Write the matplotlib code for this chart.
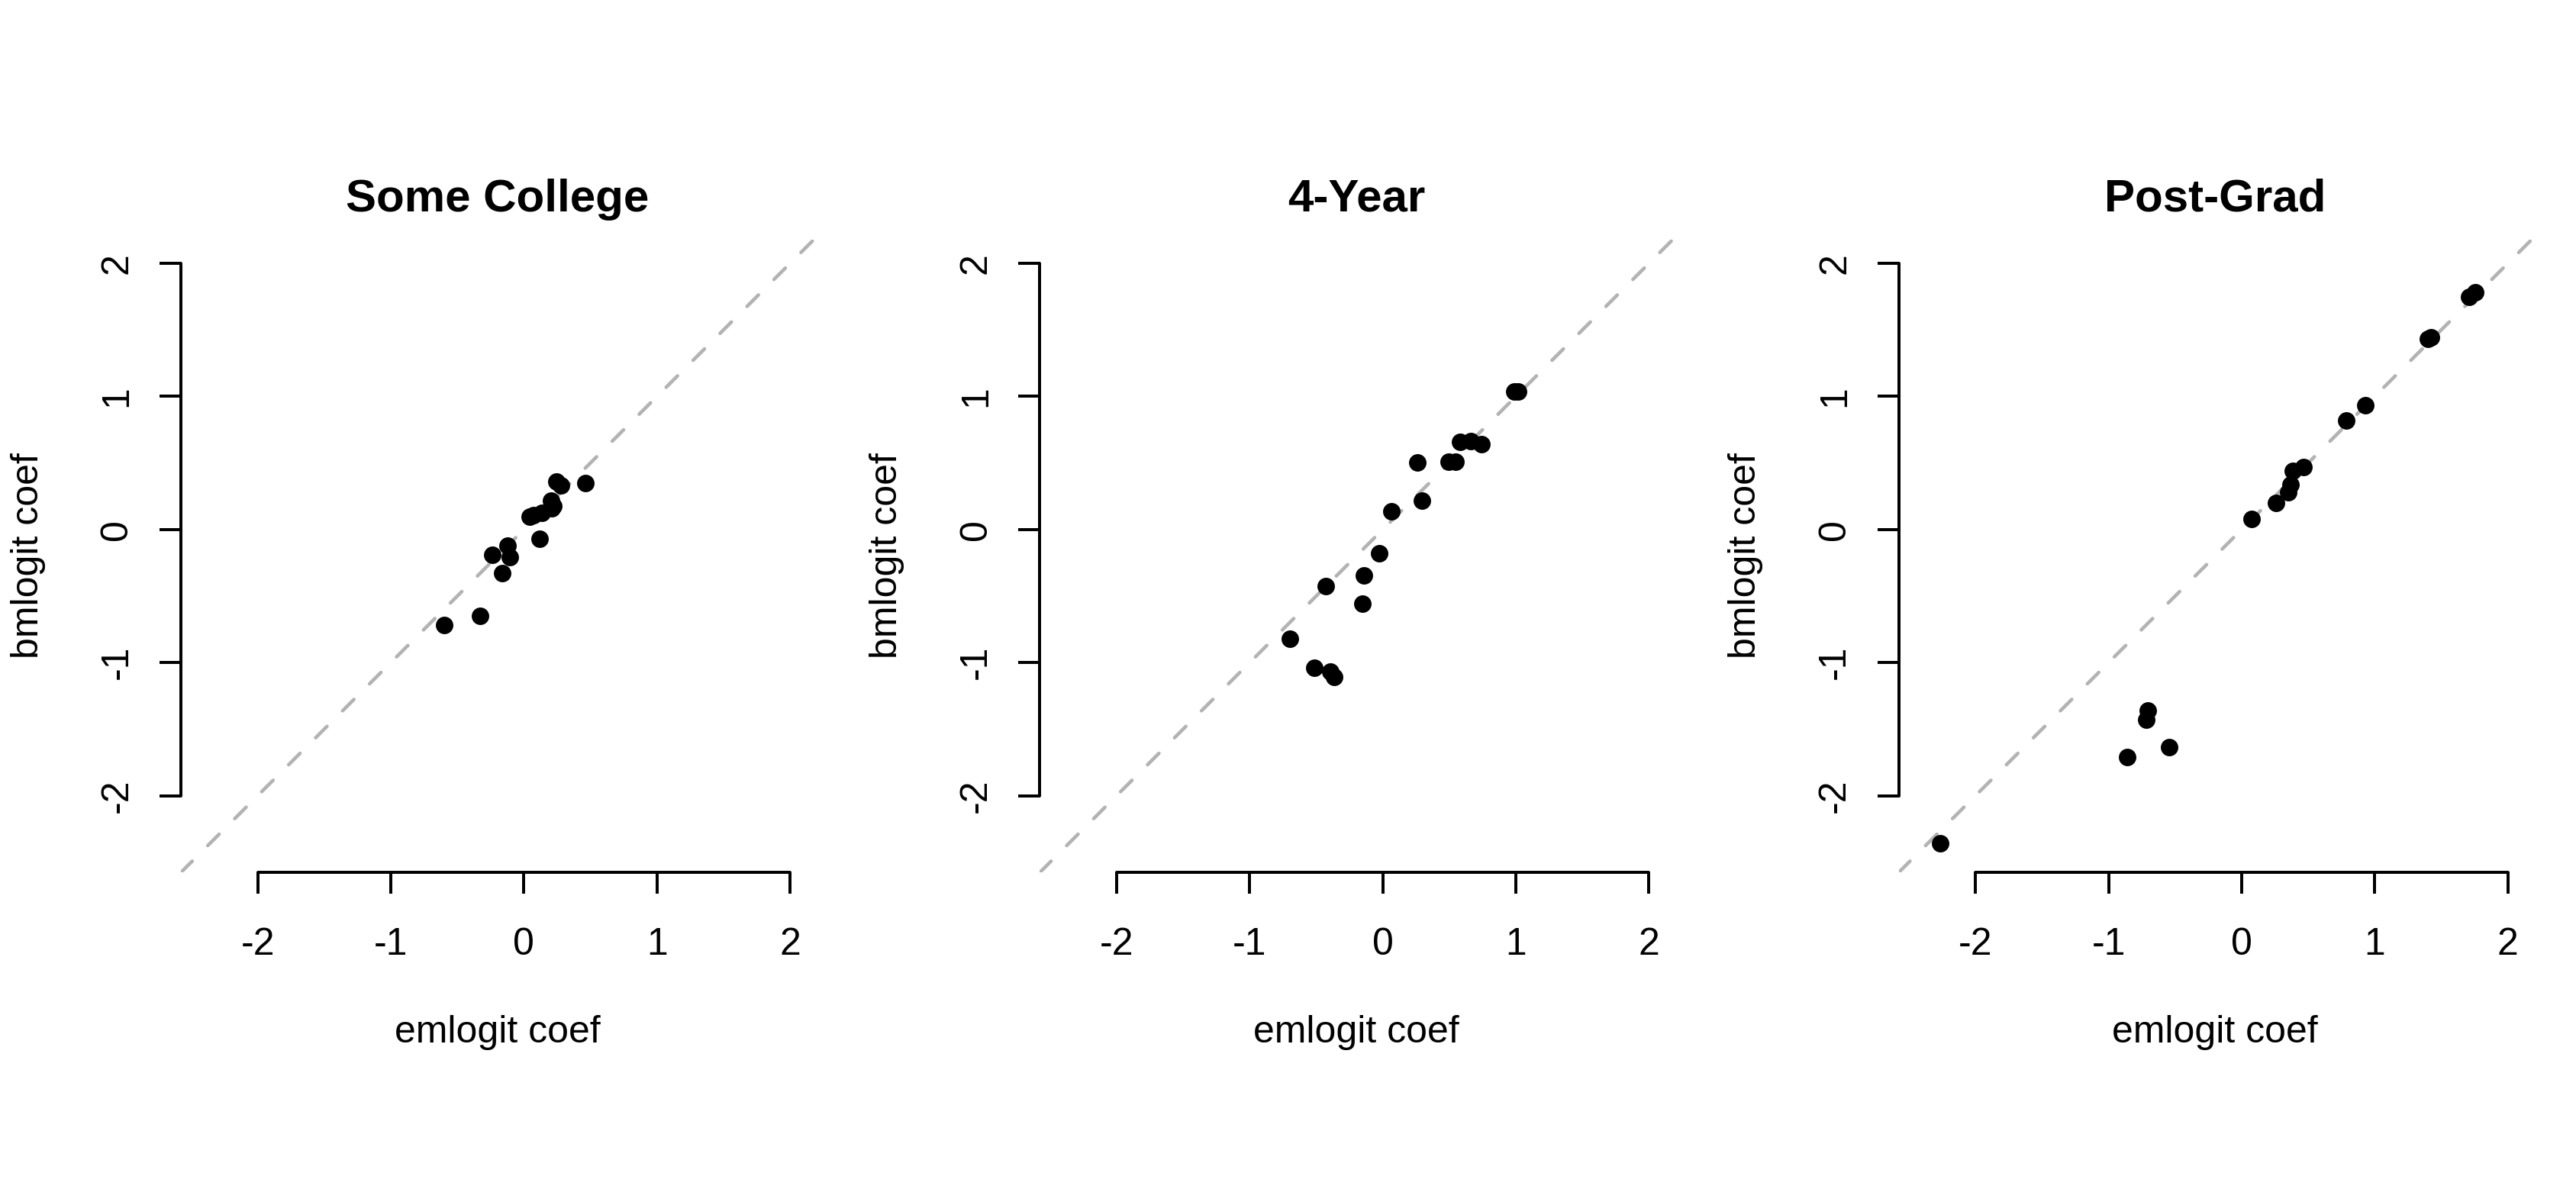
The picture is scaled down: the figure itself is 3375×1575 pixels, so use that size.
import matplotlib
matplotlib.use("Agg")
import matplotlib.pyplot as plt

plt.rcParams["font.family"] = ["Liberation Sans", "DejaVu Sans"]
plt.rcParams["axes.unicode_minus"] = False

titles = ["Some College", "4-Year", "Post-Grad"]

# emlogit (x) vs bmlogit (y) coefficients
some_college_em = [-0.60, -0.33, -0.24, -0.12, -0.105, -0.165, 0.118, 0.046, 0.072,
                   0.138, 0.204, 0.211, 0.22, 0.247, 0.28, 0.461]
some_college_bm = [-0.72, -0.65, -0.193, -0.121, -0.205, -0.326, -0.068, 0.096, 0.105,
                   0.125, 0.217, 0.161, 0.177, 0.358, 0.334, 0.346]

four_year_em = [-0.696, -0.515, -0.393, -0.367, -0.43, -0.14, -0.153, -0.025, 0.067,
                0.294, 0.262, 0.496, 0.548, 0.581, 0.66, 0.739, 0.99, 1.016]
four_year_bm = [-0.824, -1.041, -1.069, -1.11, -0.426, -0.346, -0.559, -0.177, 0.137,
                0.217, 0.503, 0.511, 0.507, 0.659, 0.667, 0.643, 1.037, 1.037]

post_grad_em = [-2.264, -0.862, -0.546, -0.717, -0.704, 0.076, 0.26, 0.349, 0.365,
                0.382, 0.467, 0.783, 0.931, 1.398, 1.421, 1.711, 1.757]
post_grad_bm = [-2.357, -1.709, -1.636, -1.427, -1.359, 0.08, 0.20, 0.281, 0.338,
                0.442, 0.47, 0.82, 0.933, 1.431, 1.443, 1.749, 1.781]

ticks = [-2, -1, 0, 1, 2]
lims = (-2.578, 2.18)

panels = [(some_college_em, some_college_bm),
          (four_year_em, four_year_bm),
          (post_grad_em, post_grad_bm)]


def draw_panel(ax, em, bm, title):
    ax.set_xlim(lims)
    ax.set_ylim(lims)
    ax.axline((0, 0), slope=1, color="#B3B3B3", lw=1.1,
              dashes=(4.6, 6.3), dash_capstyle="round", zorder=1)
    ax.plot(em, bm, "o", color="black", ms=5.5, mew=0, zorder=2)

    for side in ["top", "right"]:
        ax.spines[side].set_visible(False)
    for side in ["left", "bottom"]:
        ax.spines[side].set_bounds(-2, 2)
        ax.spines[side].set_linewidth(0.95)
        ax.spines[side].set_capstyle("round")

    ax.set_xticks(ticks)
    ax.set_yticks(ticks)
    ax.tick_params(direction="out", length=6.7, width=0.95, labelsize=12)
    ax.tick_params(axis="x", pad=10.5)
    ax.tick_params(axis="y", pad=7.8, labelrotation=90)
    for lab in ax.get_yticklabels():
        lab.set_verticalalignment("center")

    ax.set_title(title, fontsize=14.4, fontweight="bold", pad=8.9)
    ax.set_xlabel("emlogit coef", fontsize=12)
    ax.set_ylabel("bmlogit coef", fontsize=12)
    ax.xaxis.set_label_coords(0.5, -0.225)
    ax.yaxis.set_label_coords(-0.2136, 0.5)


fig = plt.figure(figsize=(11.25, 5.25), dpi=300)
W, H = 3375.0, 1575.0
size = 829.6
for i in range(3):
    left = 236.9 + i * 1125.3
    ax = fig.add_axes([left / W, 1 - 1143.3 / H, size / W, size / H])
    draw_panel(ax, panels[i][0], panels[i][1], titles[i])

fig.savefig("out.png", dpi=300)
